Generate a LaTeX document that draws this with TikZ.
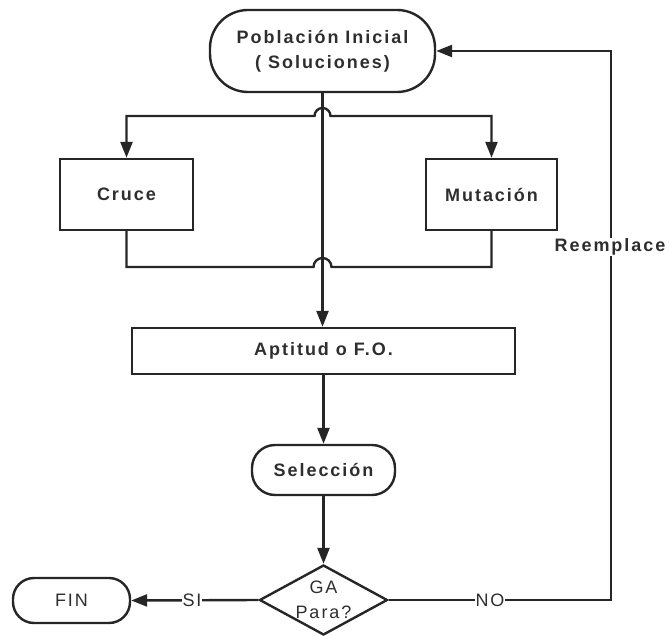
\documentclass[tikz,border=0pt]{standalone}
\usepackage{fontspec}
\setmainfont{Liberation Sans}[LetterSpace=11]
\usetikzlibrary{arrows.meta,shapes.geometric,calc}
\definecolor{ink}{HTML}{262626}
\definecolor{txt}{HTML}{2E2E2E}
\begin{document}
\begin{tikzpicture}[x=1pt,y=-1pt,
  line width=2.4pt, draw=ink,
  every node/.style={font=\fontsize{18}{25}\selectfont\bfseries, text=txt},
  arr/.style={-{Triangle[length=16pt,width=12pt]}},
  terminal/.style={draw=ink, rectangle, inner sep=0pt, align=center},
  procbox/.style={draw=ink, rectangle, inner sep=0pt, align=center},
  decis/.style={draw=ink, diamond, inner sep=0pt},
  lbl/.style={fill=white, inner sep=1pt},
  plainfont/.style={font=\fontsize{18}{25}\selectfont}]
\useasboundingbox (0,0) rectangle (669,636);
% nodes
\node[terminal, rounded corners=38pt, minimum width=225pt, minimum height=82pt] (pob) at (322.5,51) {Población Inicial\\( Soluciones)};
\node[procbox, minimum width=133pt, minimum height=71pt] (cruce) at (126.5,194.5) {Cruce};
\node[procbox, minimum width=131pt, minimum height=71pt] (mut) at (491.5,194.5) {Mutación};
\node[procbox, minimum width=383pt, minimum height=46pt] (apt) at (323.5,351) {Aptitud o F.O.};
\node[terminal, rounded corners=23pt, minimum width=143pt, minimum height=50pt] (sel) at (323.5,470) {Selección};
\node[decis, minimum width=128pt, minimum height=70pt,
  label={[align=center, plainfont, text=txt]center:GA\\Para?}] (dia) at (323.5,600) {};
\node[terminal, rounded corners=21pt, minimum width=117pt, minimum height=45pt, plainfont] (fin) at (71.5,600.5) {FIN};
% helper coordinates
\coordinate (hopT) at (322.5,116);
\coordinate (hopB) at (322.5,267);
\coordinate (fb) at (611,0);
% connectors
\draw[arr] (pob.south) -- (pob.south |- apt.north);
\draw[{Triangle[length=16pt,width=12pt]}-{Triangle[length=16pt,width=12pt]}]
  (cruce.north) -- (cruce.north |- hopT) -- ($(hopT)+(-8,0)$)
  arc[start angle=180, end angle=360, radius=8] -- (mut.north |- hopT) -- (mut.north);
\draw (cruce.south) -- (cruce.south |- hopB) -- ($(hopB)+(-9,0)$)
  arc[start angle=180, end angle=360, radius=9] -- (mut.south |- hopB) -- (mut.south);
\draw[arr] (apt.south -| sel.north) -- (sel.north);
\draw[arr] (sel.south) -- (dia.north);
\draw[arr] (dia.west) -- (fin.east);
\draw[arr] (dia.east) -- (dia.east -| fb) -- (fb |- pob.east) -- (pob.east);
% labels on lines
\node[lbl, plainfont] (si) at (192,600) {SI};
\node[lbl, plainfont] (no) at (490,600) {NO};
\node[lbl] (re) at (610,247) {Reemplace};
\end{tikzpicture}
\end{document}
